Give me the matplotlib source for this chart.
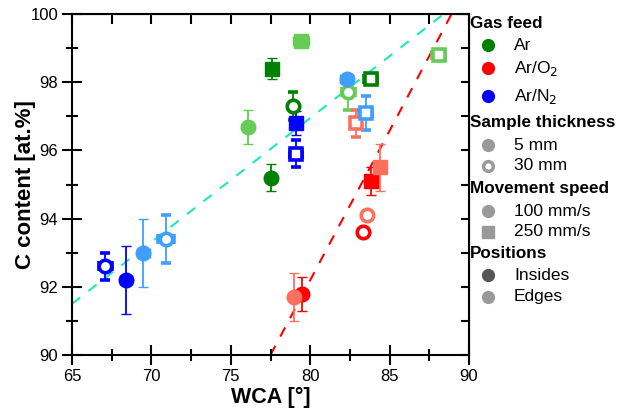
import numpy as np
import matplotlib.pyplot as plt
from matplotlib.lines import Line2D
from matplotlib.ticker import MultipleLocator

plt.rcParams['font.family'] = ['Liberation Sans', 'DejaVu Sans']

# colours per gas / position
c_ar_in, c_ar_ed = '#008000', '#66cc55'
c_o2_in, c_o2_ed = '#ff0000', '#ff6f5e'
c_n2_in, c_n2_ed = '#0000ff', '#3f9fff'

# marker codes: o = circle, s = square, trailing o = open (30 mm)
# Ar, insides
ar_in_wca = [77.5, 77.6, 78.9, 83.8]
ar_in_c = [95.2, 98.4, 97.3, 98.1]
ar_in_xerr = [0.0, 0.0, 0.0, 0.4]
ar_in_yerr = [0.4, 0.3, 0.4, 0.0]
ar_in_mk = ['o', 's', 'oo', 'so']

# Ar, edges
ar_ed_wca = [76.1, 79.4, 82.4, 88.1]
ar_ed_c = [96.7, 99.2, 97.7, 98.8]
ar_ed_xerr = [0.0, 0.5, 0.4, 0.4]
ar_ed_yerr = [0.5, 0.0, 0.5, 0.0]
ar_ed_mk = ['o', 's', 'oo', 'so']

# Ar/O2, insides
o2_in_wca = [79.5, 83.8, 83.3]
o2_in_c = [91.8, 95.1, 93.6]
o2_in_xerr = [0.0, 0.0, 0.0]
o2_in_yerr = [0.5, 0.4, 0.0]
o2_in_mk = ['o', 's', 'oo']

# Ar/O2, edges
o2_ed_wca = [79.0, 84.4, 83.6, 82.9]
o2_ed_c = [91.7, 95.5, 94.1, 96.8]
o2_ed_xerr = [0.0, 0.0, 0.0, 0.0]
o2_ed_yerr = [0.7, 0.7, 0.0, 0.4]
o2_ed_mk = ['o', 's', 'oo', 'so']

# Ar/N2, insides
n2_in_wca = [68.4, 79.1, 67.1, 79.1]
n2_in_c = [92.2, 96.8, 92.6, 95.9]
n2_in_xerr = [0.4, 0.4, 0.4, 0.4]
n2_in_yerr = [1.0, 0.35, 0.4, 0.4]
n2_in_mk = ['o', 's', 'oo', 'so']

# Ar/N2, edges
n2_ed_wca = [69.5, 82.3, 70.9, 83.5]
n2_ed_c = [93.0, 98.1, 93.4, 97.1]
n2_ed_xerr = [0.4, 0.4, 0.5, 0.4]
n2_ed_yerr = [1.0, 0.0, 0.7, 0.5]
n2_ed_mk = ['o', 'o', 'oo', 'so']

# dashed trend lines (two end points each)
cyan_x = [65, 88.4]
cyan_y = [91.5, 100]
red_x = [77.5, 88.9]
red_y = [90, 100]

fig = plt.figure(figsize=(6.19, 4.13), dpi=100)
ax = fig.add_axes([0.1163, 0.1404, 0.7577 - 0.1163, 0.966 - 0.1404])

ax.plot(cyan_x, cyan_y, ls=(0, (5, 5)), color='#1de9b6', lw=1.5, zorder=1)
ax.plot(red_x, red_y, ls=(0, (5, 5)), color='#ff0000', lw=1.5, zorder=1)

groups = [
    (ar_in_wca, ar_in_c, ar_in_xerr, ar_in_yerr, ar_in_mk, c_ar_in),
    (ar_ed_wca, ar_ed_c, ar_ed_xerr, ar_ed_yerr, ar_ed_mk, c_ar_ed),
    (o2_in_wca, o2_in_c, o2_in_xerr, o2_in_yerr, o2_in_mk, c_o2_in),
    (o2_ed_wca, o2_ed_c, o2_ed_xerr, o2_ed_yerr, o2_ed_mk, c_o2_ed),
    (n2_in_wca, n2_in_c, n2_in_xerr, n2_in_yerr, n2_in_mk, c_n2_in),
    (n2_ed_wca, n2_ed_c, n2_ed_xerr, n2_ed_yerr, n2_ed_mk, c_n2_ed),
]

for wca, cc, xe, ye, mk, col in groups:
    for i in range(len(wca)):
        shape = mk[i][0]
        is_open = len(mk[i]) > 1
        ms = 10.5 if shape == 'o' else 9.5
        if is_open:
            ms = 9 if shape == 'o' else 8.5
        ax.errorbar(wca[i], cc[i],
                    xerr=xe[i] if xe[i] > 0 else None,
                    yerr=ye[i] if ye[i] > 0 else None,
                    fmt=shape, color=col, ecolor=col, elinewidth=1.3,
                    capsize=3.5, capthick=1.3, ms=ms,
                    mfc='white' if is_open else col, mec=col,
                    mew=2.6 if is_open else 1, zorder=3)

ax.set_xlim(65, 90)
ax.set_ylim(90, 100)
ax.xaxis.set_major_locator(MultipleLocator(5))
ax.xaxis.set_minor_locator(MultipleLocator(2.5))
ax.yaxis.set_major_locator(MultipleLocator(2))
ax.yaxis.set_minor_locator(MultipleLocator(1))
ax.tick_params(which='major', direction='inout', length=14, width=1.5,
               labelsize=12, pad=3)
ax.tick_params(which='minor', direction='inout', length=8, width=1.5)
for s in ax.spines.values():
    s.set_linewidth(1.5)

secx = ax.secondary_xaxis('top')
secx.xaxis.set_major_locator(MultipleLocator(2.5))
secx.tick_params(direction='in', length=7, width=1.5, labeltop=False)
secy = ax.secondary_yaxis('right')
secy.yaxis.set_major_locator(MultipleLocator(1))
secy.tick_params(direction='in', length=6, width=1.5, labelright=False)

ax.set_xlabel('WCA [°]', fontsize=15.5, fontweight='bold', labelpad=2)
ax.set_ylabel('C content [at.%]', fontsize=16, fontweight='bold', labelpad=-4)

# legend drawn by hand on the right
W, H = 619, 413
hx, mx, tx = 470, 488, 514
legend_rows = [
    ('h', 'Gas feed', 24, None, None, False),
    ('m', 'Ar', 45, 'o', '#008000', False),
    ('m', 'Ar/O$_2$', 68, 'o', '#ff0000', False),
    ('m', 'Ar/N$_2$', 96, 'o', '#0000ff', False),
    ('h', 'Sample thickness', 123, None, None, False),
    ('m', '5 mm', 145, 'o', '#999999', False),
    ('m', '30 mm', 166, 'o', '#999999', True),
    ('h', 'Movement speed', 188, None, None, False),
    ('m', '100 mm/s', 211, 'o', '#999999', False),
    ('m', '250 mm/s', 232, 's', '#999999', False),
    ('h', 'Positions', 253, None, None, False),
    ('m', 'Insides', 275, 'o', '#555555', False),
    ('m', 'Edges', 297, 'o', '#999999', False),
]
for kind, label, py, mk, col, op in legend_rows:
    fy = 1 - py / H
    if kind == 'h':
        fig.text(hx / W, fy, label, fontsize=12.3, fontweight='bold',
                 va='center', ha='left')
    else:
        fig.add_artist(Line2D([mx / W], [fy], marker=mk, ls='none',
                              ms=8.5 if not op else 7,
                              mfc='white' if op else col, mec=col,
                              mew=2.5 if op else 1,
                              transform=fig.transFigure))
        fig.text(tx / W, fy, label, fontsize=12.5, va='center', ha='left')

fig.savefig('out.png', dpi=100)
